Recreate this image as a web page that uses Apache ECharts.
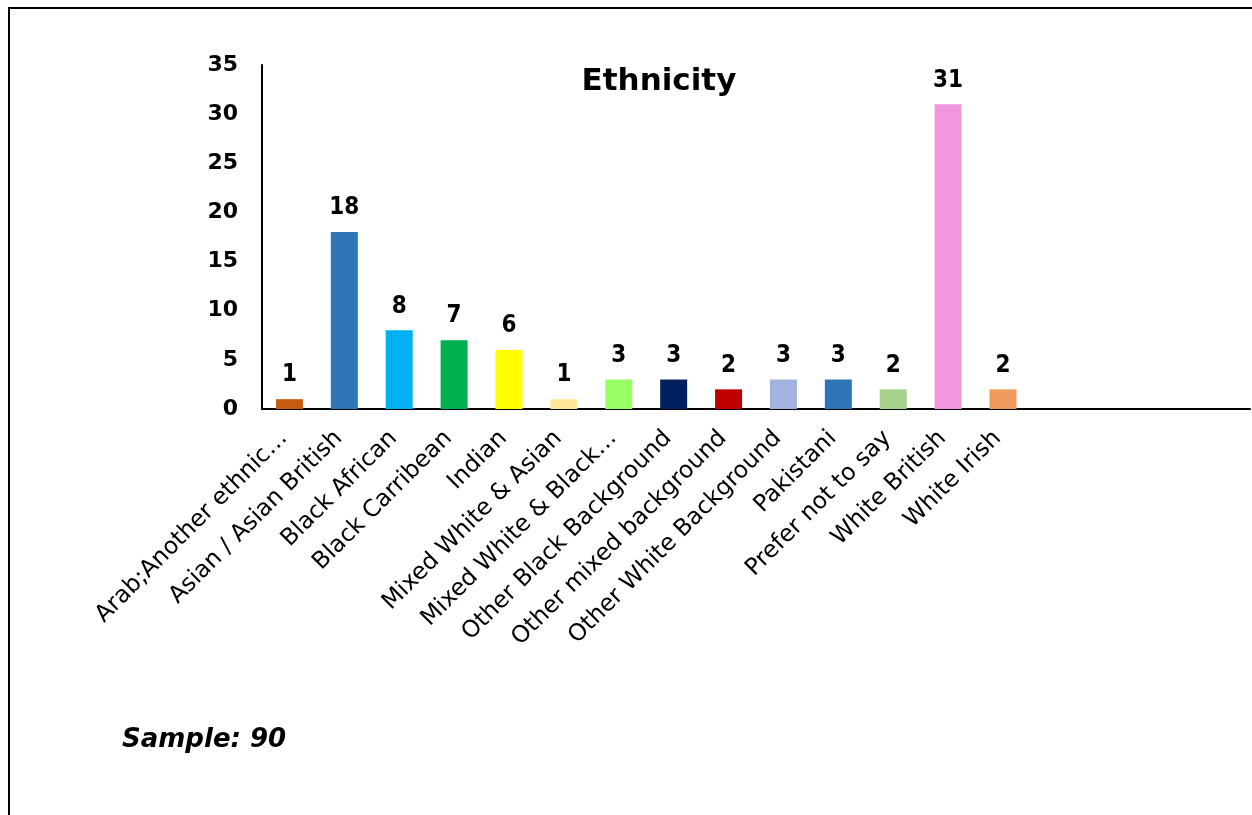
<!DOCTYPE html>
<html>
<head>
<meta charset="utf-8">
<script src="https://cdn.jsdelivr.net/npm/echarts@6/dist/echarts.min.js"></script>
<style>
  html, body { margin: 0; padding: 0; background: #fff; }
  #frame {
    position: absolute; left: 8px; top: 7px; width: 1300px; height: 900px;
    border-left: 2.5px solid #000; border-top: 2.5px solid #000; box-sizing: border-box;
  }
  #chart { position: absolute; left: 0; top: 0; width: 1252px; height: 815px; }
</style>
</head>
<body>
<div id="frame"></div>
<div id="chart"></div>
<script>
// Survey responses by ethnicity
const categories = [
  'Arab;Another ethnic…', 'Asian / Asian British', 'Black African', 'Black Carribean',
  'Indian', 'Mixed White & Asian', 'Mixed White & Black…', 'Other Black Background',
  'Other mixed background', 'Other White Background', 'Pakistani', 'Prefer not to say',
  'White British', 'White Irish'
];
const counts = [1, 18, 8, 7, 6, 1, 3, 3, 2, 3, 3, 2, 31, 2];
const barColors = [
  '#C55A11', '#2E75B6', '#00B0F0', '#00B050', '#FFFF00', '#FFE699', '#99FF66',
  '#002060', '#C00000', '#A3B3DF', '#2E75B6', '#A9D18E', '#F296E2', '#F19A5E'
];
const yTicks = { min: 0, max: 35, interval: 5 };
const sampleSize = 90;

const chart = echarts.init(document.getElementById('chart'), null, { renderer: 'canvas' });
const font = 'DejaVu Sans';

chart.setOption({
  animation: false,
  backgroundColor: 'transparent',
  title: {
    text: 'Ethnicity',
    left: 654, top: 61, textAlign: 'center',
    textStyle: { fontFamily: font, fontWeight: 'bold', fontSize: 31, color: '#000' }
  },
  graphic: [{
    type: 'text', left: 122, top: 727,
    style: {
      text: 'Sample: ' + sampleSize,
      font: 'italic bold 26px "DejaVu Sans"', fill: '#000'
    }
  }],
  grid: { left: 262, right: 2, top: 65, bottom: 406, containLabel: false },
  xAxis: {
    type: 'category',
    data: categories,
    max: 17,
    axisLine: { show: true, lineStyle: { color: '#000', width: 2 } },
    axisTick: { show: false },
    axisLabel: {
      interval: 0, rotate: 45, margin: 20, padding: [0, 8, 0, 0],
      fontFamily: font, fontSize: 23.5, color: '#000'
    }
  },
  yAxis: {
    type: 'value',
    min: yTicks.min, max: yTicks.max, interval: yTicks.interval,
    axisLine: { show: true, lineStyle: { color: '#000', width: 2 } },
    axisTick: { show: false },
    splitLine: { show: false },
    axisLabel: { margin: 24, fontFamily: font, fontWeight: 'bold', fontSize: 22, color: '#000' }
  },
  series: [{
    type: 'bar',
    data: counts.map((v, i) => ({ value: v, itemStyle: { color: barColors[i] } })),
    barWidth: 27,
    label: {
      show: true, position: 'top', distance: 12,
      fontFamily: '"Liberation Sans Narrow", "DejaVu Sans Condensed", sans-serif',
      fontWeight: 'bold', fontSize: 24, color: '#000'
    }
  }]
});
</script>
</body>
</html>
